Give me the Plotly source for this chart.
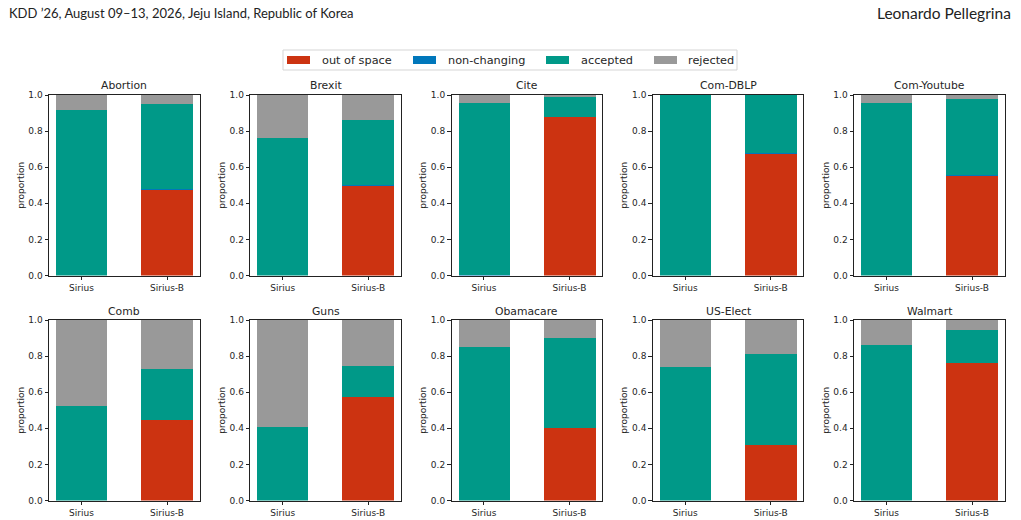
import plotly.graph_objects as go

datasets = ["Abortion", "Brexit", "Cite", "Com-DBLP", "Com-Youtube",
            "Comb", "Guns", "Obamacare", "US-Elect", "Walmart"]
methods = ["Sirius", "Sirius-B"]
categories = ["out of space", "non-changing", "accepted", "rejected"]
colors = ["#CC3311", "#0077BB", "#009988", "#999999"]

# Sirius segment proportions per dataset
sirius_out = [0.0, 0.0, 0.0, 0.0, 0.0, 0.0, 0.0, 0.0, 0.0, 0.0]
sirius_nonchg = [0.0, 0.0, 0.005, 0.0, 0.0, 0.0, 0.0, 0.0, 0.0, 0.0]
sirius_acc = [0.917, 0.762, 0.950, 1.0, 0.955, 0.523, 0.407, 0.850, 0.740, 0.860]
sirius_rej = [0.083, 0.238, 0.045, 0.0, 0.045, 0.477, 0.593, 0.150, 0.260, 0.140]

# Sirius-B segment proportions per dataset
siriusb_out = [0.478, 0.498, 0.877, 0.676, 0.553, 0.447, 0.572, 0.402, 0.305, 0.760]
siriusb_nonchg = [0.002, 0.002, 0.0, 0.002, 0.002, 0.0, 0.0, 0.0, 0.0, 0.0]
siriusb_acc = [0.470, 0.360, 0.113, 0.322, 0.423, 0.281, 0.173, 0.498, 0.507, 0.183]
siriusb_rej = [0.050, 0.140, 0.010, 0.0, 0.022, 0.272, 0.255, 0.100, 0.188, 0.057]

y_ticks = [0.0, 0.2, 0.4, 0.6, 0.8, 1.0]
y_ticktext = ["0.0", "0.2", "0.4", "0.6", "0.8", "1.0"]

header_left = "KDD ’26, August 09–13, 2026, Jeju Island, Republic of Korea"
header_right = "Leonardo Pellegrina"

W, H = 1021, 520
sirius = [sirius_out, sirius_nonchg, sirius_acc, sirius_rej]
siriusb = [siriusb_out, siriusb_nonchg, siriusb_acc, siriusb_rej]

fig = go.Figure()
layout = dict(
    width=W, height=H, margin=dict(l=0, r=0, t=0, b=0, autoexpand=False),
    paper_bgcolor="white", plot_bgcolor="white",
    barmode="stack", bargap=0,
    font=dict(family="DejaVu Sans", size=9, color="#262626"),
    showlegend=False,
)

annotations = []
shapes = []
for i, ds in enumerate(datasets):
    row, col = divmod(i, 5)
    left = 49 + 201.25 * col
    right = left + 150.5
    top = 95 if row == 0 else 320
    bottom = top + 180.5
    ax = "" if i == 0 else str(i + 1)
    xname, yname = "x" + ax, "y" + ax
    for k, cat in enumerate(categories):
        fig.add_trace(go.Bar(
            x=methods, y=[sirius[k][i], siriusb[k][i]], width=0.6,
            name=cat, legendgroup=cat, showlegend=(i == 0),
            marker=dict(color=colors[k], line=dict(width=0)),
            xaxis=xname, yaxis=yname,
        ))
    layout["xaxis" + ax] = dict(
        domain=[left / W, right / W], anchor=yname, range=[-0.38, 1.38],
        showline=True, mirror=True, linecolor="#222", linewidth=1,
        ticks="outside", ticklen=3.5, tickwidth=0.8, tickcolor="#222",
        tickfont=dict(size=9), showgrid=False, zeroline=False, automargin=False,
    )
    layout["yaxis" + ax] = dict(
        domain=[1 - bottom / H, 1 - top / H], anchor=xname, range=[0, 1],
        tickvals=y_ticks, ticktext=y_ticktext,
        showline=True, mirror=True, linecolor="#222", linewidth=1,
        ticks="outside", ticklen=3.5, tickwidth=0.8, tickcolor="#222",
        tickfont=dict(size=9), showgrid=False, zeroline=False, automargin=False,
        title=dict(text="proportion", font=dict(size=9), standoff=2),
    )
    annotations.append(dict(
        text=ds, x=(left + right) / 2 / W, y=1 - (top - 9) / H,
        xref="paper", yref="paper", xanchor="center", yanchor="middle",
        showarrow=False, font=dict(size=10.8, color="#262626"),
    ))

# legend box (drawn manually to mimic the reference layout)
leg_left, leg_right, leg_top, leg_bottom = 283, 737, 50, 70
shapes.append(dict(type="rect", xref="paper", yref="paper",
                   x0=leg_left / W, x1=leg_right / W, y0=1 - leg_bottom / H, y1=1 - leg_top / H,
                   line=dict(color="#d5d5d5", width=1), fillcolor="white", layer="above"))
swatch_x = [287, 413, 546, 654]
text_x = [320, 446, 579, 686]
for k, cat in enumerate(categories):
    shapes.append(dict(type="rect", xref="paper", yref="paper",
                       x0=swatch_x[k] / W, x1=(swatch_x[k] + 23) / W,
                       y0=1 - 64 / H, y1=1 - 56 / H,
                       line=dict(width=0), fillcolor=colors[k], layer="above"))
    annotations.append(dict(text=cat, x=text_x[k] / W, y=1 - 60 / H, xref="paper", yref="paper",
                            xanchor="left", yanchor="middle", showarrow=False,
                            font=dict(size=11.3, color="#262626")))

annotations.append(dict(text=header_left, x=7 / W, y=1 - 13 / H, xref="paper", yref="paper",
                        xanchor="left", yanchor="middle", showarrow=False,
                        font=dict(family="Lato", size=13, color="#222")))
annotations.append(dict(text=header_right, x=1 - 8 / W, y=1 - 13 / H, xref="paper", yref="paper",
                        xanchor="right", yanchor="middle", showarrow=False,
                        font=dict(family="Lato", size=15.5, color="#222")))
layout["annotations"] = annotations
layout["shapes"] = shapes
fig.update_layout(**layout)
fig.write_html("out.html")
